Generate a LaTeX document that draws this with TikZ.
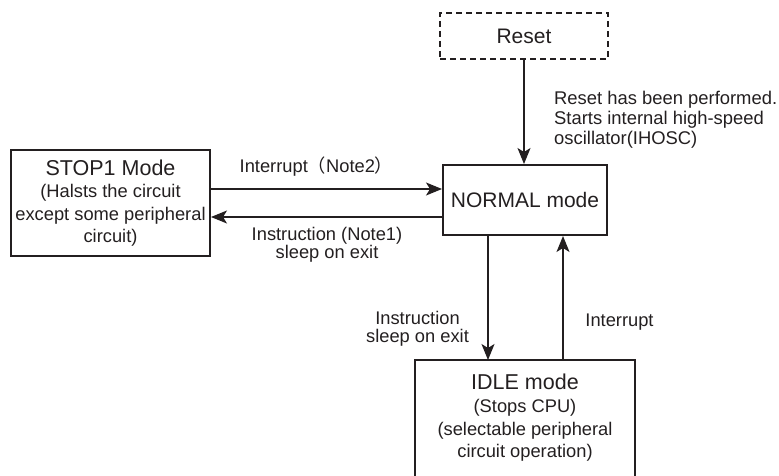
\documentclass[tikz,border=0pt]{standalone}
\usepackage{fontspec}
\setmainfont{Liberation Sans}
\newfontfamily\cjk{Noto Sans CJK SC}
\usetikzlibrary{arrows.meta}
\definecolor{ink}{HTML}{231F20}
\begin{document}
\begin{tikzpicture}[x=1pt,y=-1pt,
  every node/.style={text=ink, inner sep=0pt, font=\fontsize{18.3}{22.5}\selectfont},
  box/.style={draw=ink, line width=2pt, rectangle},
  conn/.style={draw=ink, line width=1.3pt, -{Stealth[length=16pt,width=13pt,inset=4pt]}},
  lbl/.style={align=center}]
\clip (0,0) rectangle (779,476);
% boxes
\node[box, dash pattern=on 6pt off 4pt, minimum width=168pt, minimum height=46pt] (reset) at (524,36) {\fontsize{21}{22}\selectfont Reset};
\node[box, minimum width=164pt, minimum height=70pt] (normal) at (525,200) {\fontsize{21}{22}\selectfont NORMAL mode};
\node[box, minimum width=199pt, minimum height=106pt, align=center] (stop1) at (110.5,203)
  {{\fontsize{21.5}{23}\selectfont STOP1 Mode}\\[0pt](Halsts the circuit\\except some peripheral\\circuit)};
\node[minimum width=220pt, minimum height=140pt, anchor=north] (idle) at (525,360) {};
\draw[ink, line width=2pt] (idle.south west) -- (idle.north west) -- (idle.north east) -- (idle.south east);
\node[align=center] (idletext) at (525,418)
  {{\fontsize{21.5}{23}\selectfont IDLE mode}\\[0.5pt](Stops CPU)\\(selectable peripheral\\circuit operation)};
% connectors
\draw[conn] (reset.south) -- (reset.south |- normal.north);
\draw[conn] (stop1.east |- 0,189) -- (normal.west |- 0,189);
\draw[conn] (normal.west |- 0,217) -- (stop1.east |- 0,217);
\draw[conn] (normal.south -| 488,0) -- (idle.north -| 488,0);
\draw[conn] (idle.north -| 563,0) -- (normal.south -| 563,0);
% labels
\node[lbl] (l1) at (316.5,167) {Interrupt{\cjk （}Note2{\cjk ）}};
\node[lbl, font=\fontsize{18.3}{17}\selectfont] (l2) at (327,245) {Instruction (Note1)\\sleep on exit};
\node[lbl, font=\fontsize{18.3}{18}\selectfont] (l3) at (417.5,328.5) {Instruction\\sleep on exit};
\node[lbl] (l4) at (619.5,322) {Interrupt};
\node[align=left, anchor=west, font=\fontsize{18.4}{20}\selectfont] (l5) at (554,120) {Reset has been performed.\\Starts internal high-speed\\oscillator(IHOSC)};
\end{tikzpicture}
\end{document}
